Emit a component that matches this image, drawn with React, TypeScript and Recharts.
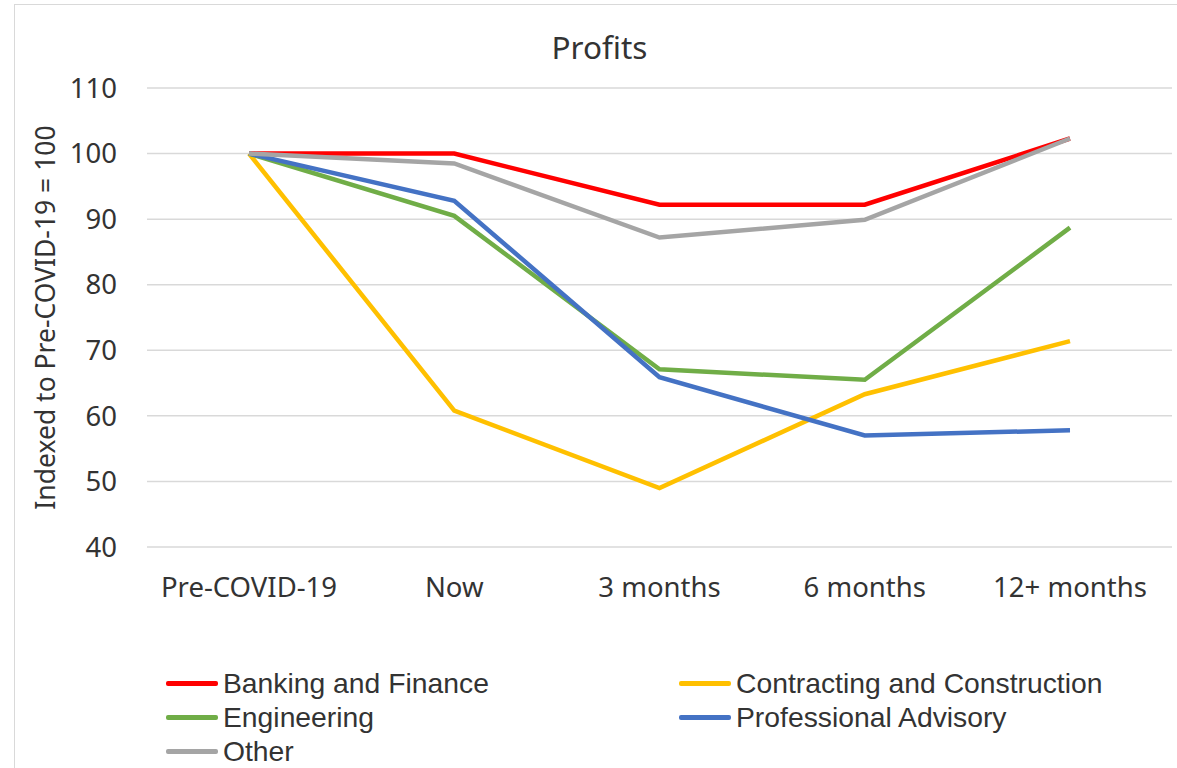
import React from "react";
import { LineChart, Line, XAxis, YAxis, CartesianGrid, Legend } from "recharts";

const categories = ["Pre-COVID-19", "Now", "3 months", "6 months", "12+ months"];
const bankingFinance = [100, 100, 92.2, 92.2, 102.3];
const contractingConstruction = [100, 60.8, 49, 63.3, 71.4];
const engineering = [100, 90.5, 67.1, 65.5, 88.7];
const professionalAdvisory = [100, 92.8, 65.9, 57.0, 57.8];
const other = [100, 98.5, 87.2, 89.9, 102.3];
const yTicks = [40, 50, 60, 70, 80, 90, 100, 110];

const seriesDefs = [
  { key: "banking", name: "Banking and Finance", color: "#FF0000", values: bankingFinance },
  { key: "contracting", name: "Contracting and Construction", color: "#FFC000", values: contractingConstruction },
  { key: "engineering", name: "Engineering", color: "#70AD47", values: engineering },
  { key: "professional", name: "Professional Advisory", color: "#4472C4", values: professionalAdvisory },
  { key: "other", name: "Other", color: "#A5A5A5", values: other },
];

const data = categories.map((c, i) => {
  const row: Record<string, string | number> = { category: c };
  seriesDefs.forEach((s) => (row[s.key] = s.values[i]));
  return row;
});

const FONT = "'Noto Sans', 'Open Sans', sans-serif";
const LEGEND_FONT = "'Liberation Sans Narrow', 'Liberation Sans', sans-serif";
const TEXT = "#333333";

const renderLegend = () => {
  const cols = [166, 679];
  const rows = [683, 717, 751];
  return (
    <div style={{ position: "relative", width: 1177, height: 110 }}>
      {seriesDefs.map((s, i) => {
        const col = cols[i % 2];
        const rowY = rows[Math.floor(i / 2)] - 660;
        return (
          <div key={s.key} style={{ position: "absolute", left: col, top: rowY - 17, height: 34, display: "flex", alignItems: "center" }}>
            <div style={{ width: 52, height: 5, background: s.color, borderRadius: 2 }} />
            <span style={{ marginLeft: 5, fontFamily: LEGEND_FONT, fontSize: 28.3, color: TEXT, whiteSpace: "nowrap" }}>{s.name}</span>
          </div>
        );
      })}
    </div>
  );
};

const YLabel = (props: any) => {
  const vb = props.viewBox || {};
  const cy = (vb.y ?? 88) + (vb.height ?? 459) / 2;
  return (
    <text x={45} y={cy} transform={`rotate(-90, 45, ${cy})`} textAnchor="middle" dominantBaseline="central" fontFamily={FONT} fontSize={26.5} fill={TEXT}>
      Indexed to Pre-COVID-19 = 100
    </text>
  );
};

export default function App() {
  return (
    <div style={{ position: "absolute", left: 0, top: 0, width: 1177, height: 768, overflow: "hidden", background: "#fff" }}>
      <div style={{ position: "absolute", left: 14, top: 4, width: 1200, height: 800, border: "1px solid #D9D9D9" }} />
      <div style={{ position: "absolute", left: 0, width: 1199, top: 27, textAlign: "center", fontFamily: FONT, fontSize: 31.5, color: TEXT, lineHeight: "40px" }}>
        Profits
      </div>
      <LineChart width={1177} height={768} data={data} margin={{ top: 88, right: 5, left: 0, bottom: 161 }}>
        <CartesianGrid vertical={false} stroke="#D9D9D9" strokeWidth={1.5} />
        <XAxis
          dataKey="category"
          height={60}
          axisLine={false}
          tickLine={false}
          tickSize={0}
          tickMargin={30}
          padding={{ left: 102, right: 102 }}
          interval={0}
          tick={{ fontFamily: FONT, fontSize: 27.5, fill: TEXT }}
        />
        <YAxis
          width={147}
          domain={[40, 110]}
          ticks={yTicks}
          axisLine={false}
          tickLine={false}
          tickSize={0}
          tickMargin={30}
          tick={{ fontFamily: FONT, fontSize: 27.5, fill: TEXT }}
          label={{ content: YLabel }}
        />
        <Legend layout="horizontal" verticalAlign="middle" content={renderLegend} wrapperStyle={{ left: 0, top: 660, width: 1177, height: 110 }} />
        {seriesDefs.map((s) => (
          <Line
            key={s.key}
            type="linear"
            dataKey={s.key}
            name={s.name}
            stroke={s.color}
            strokeWidth={4.5}
            dot={false}
            activeDot={false}
            isAnimationActive={false}
          />
        ))}
      </LineChart>
    </div>
  );
}
